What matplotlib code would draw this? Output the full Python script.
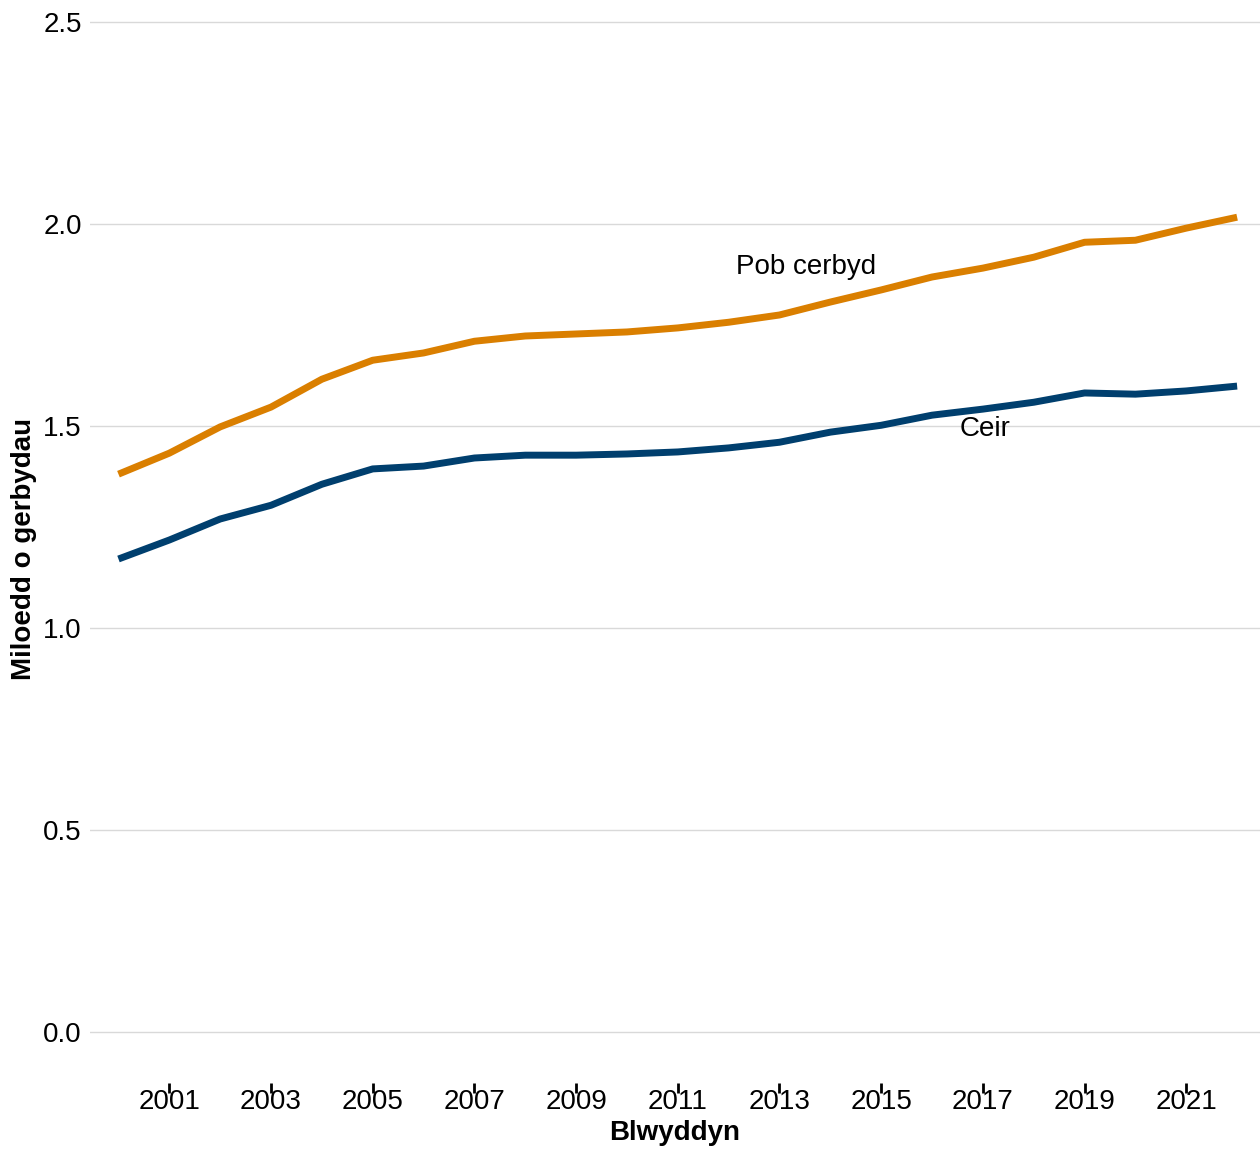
import numpy as np
import matplotlib as mpl
mpl.use('Agg')
import matplotlib.pyplot as plt

plt.rcParams['font.family'] = ['Liberation Sans', 'DejaVu Sans']

# years and series (thousand vehicles)
years = list(range(2000, 2023))
pob_cerbyd = [1.381, 1.433, 1.498, 1.547, 1.616, 1.663, 1.681, 1.710, 1.723, 1.728,
              1.733, 1.743, 1.757, 1.775, 1.807, 1.837, 1.869, 1.891, 1.918, 1.955,
              1.960, 1.990, 2.017]
ceir = [1.171, 1.218, 1.270, 1.304, 1.356, 1.394, 1.401, 1.421, 1.428, 1.428,
        1.431, 1.436, 1.446, 1.460, 1.485, 1.502, 1.527, 1.542, 1.559, 1.582,
        1.579, 1.587, 1.599]
xticks = list(range(2001, 2022, 2))
yticks = [0.0, 0.5, 1.0, 1.5, 2.0, 2.5]

fig = plt.figure(figsize=(12.6, 11.49), dpi=100)
ax = fig.add_axes([90/1260, 1 - 1083/1149, 1170/1260, (1083-14)/1149])

ax.plot(years, pob_cerbyd, color='#DA7F00', lw=5, solid_capstyle='butt', zorder=3)
ax.plot(years, ceir, color='#003F6E', lw=5, solid_capstyle='butt', zorder=3)

ax.text(2012.15, 1.895, 'Pob cerbyd', fontsize=20, ha='left', va='center')
ax.text(2016.55, 1.492, 'Ceir', fontsize=20, ha='left', va='center')

ax.set_xlim(1999.44, 2022.45)
ax.set_ylim(-0.126, 2.52)
ax.set_yticks(yticks)
ax.set_yticklabels([f'{v:.1f}' for v in yticks])
ax.set_xticks(xticks)

ax.grid(axis='y', color='#D9D9D9', lw=1)
ax.set_axisbelow(True)
for s in ax.spines.values():
    s.set_visible(False)

ax.tick_params(axis='y', length=0, labelsize=20, pad=6)
ax.tick_params(axis='x', length=7, width=2, direction='out', labelsize=20, pad=-3)

ax.set_xlabel('Blwyddyn', fontsize=20, fontweight='bold', labelpad=4)
ax.set_ylabel('Miloedd o gerbydau', fontsize=20, fontweight='bold', labelpad=4)

plt.savefig('out.png', dpi=100)
